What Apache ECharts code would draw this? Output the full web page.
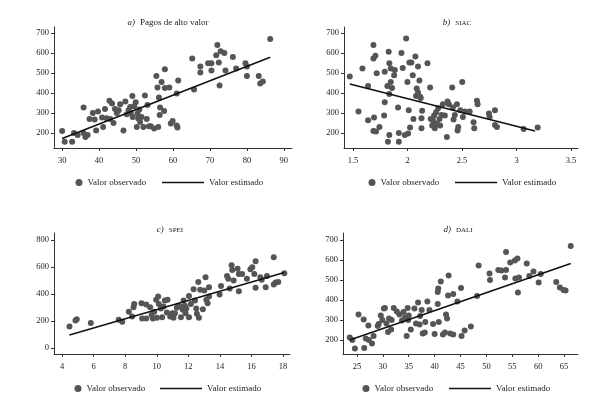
<!DOCTYPE html>
<html>
<head>
<meta charset="utf-8">
<script src="https://cdn.jsdelivr.net/npm/echarts@6/dist/echarts.min.js"></script>
<style>
  html, body { margin: 0; padding: 0; background: #fff; }
  #chart { width: 589px; height: 402px; }
</style>
</head>
<body>
<div id="chart"></div>
<script>
// ---- datos ----
const panelTags = ['a)', 'b)', 'c)', 'd)'];
const panelNames = ['Pagos de alto valor', 'SIAC', 'SPEI', 'DALI'];
const legendNames = ['Valor observado', 'Valor estimado'];

// valores de los ejes
const pagosTicks = [30, 40, 50, 60, 70, 80, 90];
const siacTicks = [1.5, 2, 2.5, 3, 3.5];
const speiTicks = [4, 6, 8, 10, 12, 14, 16, 18];
const daliTicks = [25, 30, 35, 40, 45, 50, 55, 60, 65];
const yTicks = [200, 300, 400, 500, 600, 700];
const speiYTicks = [0, 200, 400, 600, 800];

// a) Pagos de alto valor: [x, y]
const pagosObs = [
  [30, 210], [30.7, 156], [32.7, 156], [33.2, 200], [34.2, 190], [35.8, 328], [35.8, 200],
  [36.3, 180], [36.9, 190], [37.4, 270], [38.3, 300], [38.8, 267], [39.2, 213], [39.7, 307],
  [40.8, 277], [41.1, 230], [41.6, 320], [42, 274], [42.8, 361], [43, 270], [43.5, 348],
  [43.9, 250], [44.3, 320], [44.8, 300], [45.3, 314], [45.7, 344], [46.6, 213], [47.1, 358],
  [47.5, 294], [48, 314], [48.4, 330], [48.6, 300], [49, 385], [49.1, 280], [49.5, 334],
  [49.9, 354], [50.2, 230], [50.4, 297], [50.6, 272], [50.9, 317], [51.1, 255], [51.5, 280],
  [52, 230], [52.4, 388], [52.9, 270], [53.1, 340], [53.5, 234], [54, 234], [54.9, 223],
  [55.5, 485], [55.8, 428], [56, 230], [56.2, 378], [56.4, 290], [56.5, 328], [56.9, 455],
  [57.6, 310], [57.8, 519], [57.8, 425], [59, 428], [59.4, 247], [59.9, 260], [61, 237],
  [61.2, 227], [61, 398], [61.4, 462], [65.2, 572], [65.7, 418], [67.4, 532], [67.4, 502],
  [69.5, 549], [70.4, 549], [70.4, 512], [72, 640], [71.7, 589], [72.4, 552], [72.6, 438],
  [72.9, 609], [73.9, 600], [74.2, 512], [76.2, 580], [77.1, 522], [79.6, 549], [80, 532],
  [80, 485], [83.2, 485], [83.6, 448], [84.3, 458], [86.3, 670]
];
const pagosFit = [[30, 173], [86.3, 579]];

// b) SIAC
const siacObs = [
  [1.47, 482], [1.55, 307], [1.586, 522], [1.638, 435], [1.638, 264], [1.687, 210], [1.693, 277],
  [1.687, 640], [1.687, 572], [1.705, 586], [1.717, 499], [1.711, 207], [1.742, 230], [1.785, 287],
  [1.791, 506], [1.791, 354], [1.815, 435], [1.82, 156], [1.827, 606], [1.833, 549], [1.833, 190],
  [1.833, 395], [1.846, 522], [1.846, 455], [1.858, 425], [1.877, 489], [1.883, 515], [1.913, 328],
  [1.92, 200], [1.92, 156], [1.944, 600], [1.956, 525], [1.975, 190], [1.987, 673], [1.999, 455],
  [2.005, 197], [2.011, 314], [2.017, 552], [2.023, 227], [2.035, 552], [2.048, 489], [2.054, 270],
  [2.072, 582], [2.078, 385], [2.084, 422], [2.096, 532], [2.096, 402], [2.109, 462], [2.115, 381],
  [2.121, 375], [2.128, 274], [2.128, 224], [2.134, 311], [2.183, 549], [2.207, 428], [2.213, 270],
  [2.226, 237], [2.232, 264], [2.244, 287], [2.25, 224], [2.262, 304], [2.269, 247], [2.281, 324],
  [2.293, 270], [2.299, 237], [2.312, 290], [2.324, 344], [2.342, 287], [2.361, 180], [2.367, 358],
  [2.379, 344], [2.41, 428], [2.416, 328], [2.422, 267], [2.434, 290], [2.453, 344], [2.459, 213],
  [2.465, 230], [2.484, 314], [2.502, 455], [2.508, 280], [2.527, 307], [2.57, 307], [2.606, 254],
  [2.612, 224], [2.637, 361], [2.643, 344], [2.747, 297], [2.753, 280], [2.802, 314], [2.802, 240],
  [2.82, 230], [3.065, 220], [3.194, 227]
];
const siacFit = [[1.47, 445], [3.17, 210]];

// c) SPEI
const speiObs = [
  [4.47, 160], [4.85, 204], [4.93, 214], [5.82, 185], [7.59, 209], [7.81, 194], [8.23, 268],
  [8.44, 234], [8.53, 303], [8.57, 327], [9.03, 332], [9.07, 219], [9.33, 219], [9.33, 322],
  [9.58, 303], [9.67, 244], [9.75, 219], [9.84, 268], [9.96, 357], [10.01, 224], [10.09, 382],
  [10.13, 327], [10.26, 293], [10.34, 229], [10.43, 308], [10.51, 352], [10.64, 263], [10.68, 357],
  [10.85, 234], [10.98, 258], [11.06, 224], [11.15, 258], [11.27, 298], [11.36, 313], [11.49, 308],
  [11.53, 229], [11.65, 283], [11.7, 352], [11.78, 313], [11.82, 258], [11.87, 293], [12.04, 386],
  [12.04, 229], [12.16, 327], [12.33, 436], [12.42, 352], [12.5, 293], [12.54, 254], [12.63, 490],
  [12.67, 224], [12.75, 431], [12.92, 288], [13.01, 426], [13.09, 524], [13.14, 357], [13.22, 332],
  [13.31, 450], [13.31, 382], [13.98, 396], [14.07, 460], [14.45, 534], [14.53, 514], [14.62, 441],
  [14.74, 613], [14.78, 578], [14.87, 500], [15.12, 588], [15.2, 549], [15.2, 421], [15.41, 549],
  [15.71, 514], [15.93, 583], [16.05, 598], [16.18, 549], [16.26, 642], [16.26, 446], [16.56, 524],
  [16.65, 505], [16.9, 450], [16.98, 534], [17.41, 672], [17.41, 470], [17.53, 485], [17.7, 490],
  [18.08, 554]
];
const speiFit = [[4.47, 96], [18.08, 559]];

// d) DALI
const daliObs = [
  [23.6, 213], [24.1, 200], [24.6, 157], [25.3, 327], [26.3, 303], [26.4, 160], [26.7, 207],
  [27.2, 273], [27.3, 200], [27.9, 183], [28.2, 220], [29, 270], [29.2, 280], [29.6, 323],
  [29.9, 300], [30.2, 357], [30.4, 360], [30.7, 283], [31, 240], [31.2, 307], [31.6, 253],
  [31.7, 300], [32.1, 360], [32.7, 343], [33.2, 327], [33.7, 297], [34, 340], [34.3, 313],
  [34.6, 220], [34.8, 360], [34.9, 300], [35, 323], [35.4, 253], [36.1, 357], [36.4, 283],
  [36.8, 387], [37.1, 277], [37.2, 320], [37.5, 350], [37.7, 233], [38.1, 237], [38.2, 290],
  [38.6, 393], [39, 350], [39.7, 280], [40, 230], [40.6, 440], [40.6, 380], [40.7, 457],
  [40.8, 290], [41.2, 493], [41.6, 227], [42, 237], [42.2, 327], [42.4, 307], [42.6, 423],
  [42.7, 523], [43, 233], [43.6, 430], [43.6, 227], [44.4, 393], [45.1, 460], [45.2, 220],
  [45.8, 247], [47, 267], [48.2, 420], [48.5, 573], [50.6, 533], [50.7, 500], [52.3, 550],
  [52.9, 547], [53.6, 513], [53.8, 550], [53.8, 640], [54.6, 587], [55.5, 597], [55.6, 507],
  [56, 607], [56.3, 513], [56.1, 437], [57.8, 583], [58.3, 520], [59.1, 543], [60.1, 487],
  [60.5, 530], [63.5, 490], [64.2, 463], [64.9, 450], [65.3, 447], [66.3, 670]
];
const daliFit = [[23.6, 200], [66.3, 583]];

// ---- armado ----
const FONT = '"Liberation Serif", "DejaVu Serif", serif';
const obsList = [pagosObs, siacObs, speiObs, daliObs];
const fitList = [pagosFit, siacFit, speiFit, daliFit];
const xTickList = [pagosTicks, siacTicks, speiTicks, daliTicks];
const yTickList = [yTicks, yTicks, speiYTicks, yTicks];

// posiciones de cada panel (pixeles)
const layout = [
  { grid: { left: 54, top: 27, width: 238, height: 121 }, x: [27.8, 92.2], y: [125, 730], titleX: 168, titleY: 14, legendY: 178, dotX: 75.5, lineX: 162 },
  { grid: { left: 344, top: 27, width: 234, height: 121 }, x: [1.417, 3.564], y: [125, 730], titleX: 457, titleY: 14, legendY: 178, dotX: 368.5, lineX: 455 },
  { grid: { left: 54, top: 233, width: 236, height: 121 }, x: [3.49, 18.44], y: [-44, 852], titleX: 170, titleY: 221, legendY: 384, dotX: 74.5, lineX: 160 },
  { grid: { left: 343, top: 233, width: 235, height: 121 }, x: [22.3, 67.7], y: [130, 735], titleX: 458, titleY: 221, legendY: 384, dotX: 362.5, lineX: 449 },
];

const axisColor = '#333';
const textColor = '#222';

const option = {
  animation: false,
  backgroundColor: '#fff',
  title: [],
  grid: [],
  xAxis: [],
  yAxis: [],
  legend: [],
  series: [],
};

layout.forEach(function (p, i) {
  option.title.push({
    text: '{i|' + panelTags[i] + '} ' + (i === 0 ? '{n|' : '{s|') + panelNames[i] + '}',
    left: p.titleX,
    top: p.titleY,
    textAlign: 'center',
    padding: 0,
    textStyle: {
      fontWeight: 'normal',
      rich: {
        i: { fontFamily: FONT, fontStyle: 'italic', fontWeight: 'normal', fontSize: 9, color: textColor },
        n: { fontFamily: FONT, fontWeight: 'normal', fontSize: 9, color: textColor },
        s: { fontFamily: FONT, fontWeight: 'normal', fontSize: 7, color: textColor },
      },
    },
  });

  option.grid.push(Object.assign({ containLabel: false }, p.grid));

  option.xAxis.push({
    type: 'value',
    gridIndex: i,
    min: p.x[0],
    max: p.x[1],
    splitLine: { show: false },
    axisLine: { onZero: false, lineStyle: { color: axisColor, width: 1 } },
    axisTick: { customValues: xTickList[i], length: 3, lineStyle: { color: axisColor } },
    axisLabel: { customValues: xTickList[i], margin: 8, fontFamily: FONT, fontSize: 8.5, color: textColor },
  });

  option.yAxis.push({
    type: 'value',
    gridIndex: i,
    min: p.y[0],
    max: p.y[1],
    splitLine: { show: false },
    axisLine: { show: true, onZero: false, lineStyle: { color: axisColor, width: 1 } },
    axisTick: { show: true, customValues: yTickList[i], length: 3, lineStyle: { color: axisColor } },
    axisLabel: { customValues: yTickList[i], margin: 5, fontFamily: FONT, fontSize: 8.5, color: textColor },
  });

  // leyenda: punto
  option.legend.push({
    left: p.dotX,
    top: p.legendY,
    padding: 0,
    itemWidth: 7,
    itemHeight: 7,
    selectedMode: false,
    data: [{ name: legendNames[0], icon: 'circle' }],
    textStyle: { fontFamily: FONT, fontSize: 9, color: textColor },
  });
  // leyenda: linea
  option.legend.push({
    left: p.lineX,
    top: p.legendY,
    padding: 0,
    itemWidth: 42,
    itemHeight: 1.6,
    selectedMode: false,
    data: [{ name: legendNames[1], icon: 'rect' }],
    textStyle: { fontFamily: FONT, fontSize: 9, color: textColor },
  });

  option.series.push({
    name: legendNames[0],
    type: 'scatter',
    xAxisIndex: i,
    yAxisIndex: i,
    symbolSize: 6,
    itemStyle: { color: '#555', opacity: 1 },
    data: obsList[i],
  });
  option.series.push({
    name: legendNames[1],
    type: 'line',
    xAxisIndex: i,
    yAxisIndex: i,
    symbol: 'none',
    z: 3,
    lineStyle: { color: '#111', width: 1.6 },
    itemStyle: { color: '#111' },
    data: fitList[i],
  });
});

const myChart = echarts.init(document.getElementById('chart'));
myChart.setOption(option);

window.addEventListener('resize', () => {
  myChart.resize();
});
</script>
</body>
</html>
